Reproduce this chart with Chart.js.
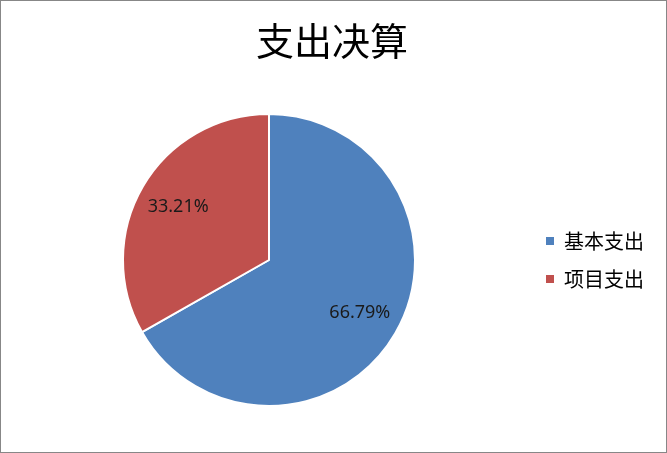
<!DOCTYPE html>
<html>
<head>
<meta charset="utf-8">
<script src="https://cdn.jsdelivr.net/npm/chart.js@4.4.1/dist/chart.umd.min.js"></script>
<style>
  html, body { margin: 0; padding: 0; background: #fff; }
  #box { width: 665px; height: 451px; border: 1px solid #878787; }
  canvas { display: block; }
</style>
</head>
<body>
<div id="box"><canvas id="c" width="665" height="451"></canvas></div>
<script>
const titleText = '支出决算';
const categories = ['基本支出', '项目支出'];
const values = [66.79, 33.21];
const colors = ['#4F81BD', '#C0504D'];

const sliceLabels = {
  id: 'sliceLabels',
  afterDatasetsDraw(chart) {
    const ctx = chart.ctx;
    const meta = chart.getDatasetMeta(0);
    ctx.save();
    ctx.font = '18px "Noto Sans", sans-serif';
    ctx.fillStyle = '#1a1a1a';
    ctx.textAlign = 'center';
    ctx.textBaseline = 'middle';
    meta.data.forEach((arc, i) => {
      const p = arc.getProps(['x', 'y', 'startAngle', 'endAngle', 'outerRadius'], true);
      const mid = (p.startAngle + p.endAngle) / 2;
      const r = p.outerRadius * 0.72;
      const x = p.x + Math.cos(mid) * r;
      const y = p.y + Math.sin(mid) * r;
      ctx.fillText(values[i].toFixed(2) + '%', x, y);
    });
    ctx.restore();
  }
};

new Chart(document.getElementById('c'), {
  type: 'pie',
  data: {
    labels: categories,
    datasets: [{
      data: values,
      backgroundColor: colors,
      borderColor: '#ffffff',
      borderWidth: 2
    }]
  },
  options: {
    responsive: false,
    animation: false,
    layout: { padding: { left: 9, right: 12, top: 0, bottom: 45 } },
    plugins: {
      tooltip: { enabled: false },
      title: {
        display: true,
        text: titleText,
        color: '#000',
        font: { family: '"Noto Sans CJK SC", sans-serif', size: 38, weight: 'normal', lineHeight: 1.2 },
        padding: { top: 17, bottom: 49.4 }
      },
      legend: {
        display: true,
        position: 'right',
        align: 'center',
        fullSize: false,
        labels: {
          color: '#000',
          font: { family: '"Noto Sans CJK SC", sans-serif', size: 20 },
          boxWidth: 8,
          boxHeight: 8,
          padding: 18,
          generateLabels(chart) {
            const items = Chart.overrides.pie.plugins.legend.labels.generateLabels(chart);
            return items.map(it => Object.assign(it, { lineWidth: 0, strokeStyle: it.fillStyle }));
          }
        }
      }
    }
  },
  plugins: [sliceLabels]
});
</script>
</body>
</html>
